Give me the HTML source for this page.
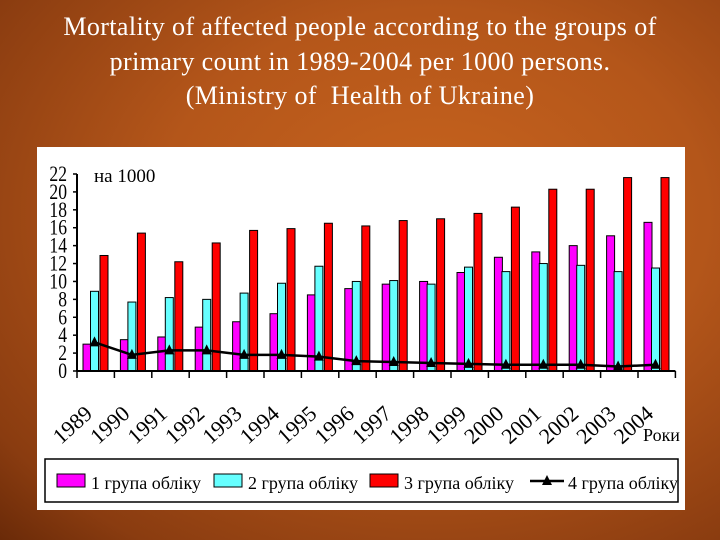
<!DOCTYPE html>
<html><head><meta charset="utf-8"><style>
body{margin:0;width:720px;height:540px;overflow:hidden;background:radial-gradient(ellipse at 60% 40%,#c8641e 0%,#b4561a 45%,#8a3c10 85%,#6a2a08 100%);font-family:"Liberation Serif",serif;}
#title{position:absolute;left:0;top:10px;width:720px;text-align:center;color:#fff;font-size:26px;letter-spacing:0.4px;line-height:34.5px;}
#panel{position:absolute;left:37px;top:147px;width:648px;height:363px;background:#fff;}
</style></head><body>
<div id="title">Mortality of affected people according to the groups of<br>primary count in 1989-2004 per 1000 persons.<br>(Ministry of&nbsp; Health of Ukraine)</div>
<div id="panel"></div>
<svg id="chart" width="720" height="540" style="position:absolute;left:0;top:0"></svg>
<script>
const years=["1989","1990","1991","1992","1993","1994","1995","1996","1997","1998","1999","2000","2001","2002","2003","2004"];
const group1=[3.0,3.5,3.8,4.9,5.5,6.4,8.5,9.2,9.7,10.0,11.0,12.7,13.3,14.0,15.1,16.6];
const group2=[8.9,7.7,8.2,8.0,8.7,9.8,11.7,10.0,10.1,9.7,11.6,11.1,12.0,11.8,11.1,11.5];
const group3=[12.9,15.4,12.2,14.3,15.7,15.9,16.5,16.2,16.8,17.0,17.6,18.3,20.3,20.3,21.6,21.6];
const group4=[3.2,1.8,2.3,2.3,1.8,1.8,1.6,1.1,1.0,0.9,0.8,0.7,0.7,0.7,0.5,0.7];
const yTicks=[0,2,4,6,8,10,12,14,16,18,20,22];
const NS="http://www.w3.org/2000/svg";
const svg=document.getElementById('chart');
const x0=77,gw=37.4,y0=371,ppu=(371-174)/22;
const Y=v=>y0-v*ppu;
const X=i=>x0+i*gw;
function mk(t,a,p){const e=document.createElementNS(NS,t);for(const k in a)e.setAttribute(k,a[k]);(p||svg).appendChild(e);return e;}
const series=[[group1,"#ff00ff",6],[group2,"#66ffff",13.5],[group3,"#ff0000",23]];
series.forEach((s,si)=>{s[0].forEach((v,i)=>{
 const r=mk('rect',{x:X(i)+s[2],y:Y(v),width:8,height:v*ppu,fill:s[1],stroke:"#000","stroke-width":1});
 
 
});});
let d="";group4.forEach((v,i)=>{d+=(i?"L":"M")+(X(i)+17.5)+","+Y(v);});
const ln=mk('path',{d:d,fill:"none",stroke:"#000","stroke-width":2.5});


group4.forEach((v,i)=>{const cx=X(i)+17.5,cy=Y(v);
 const t=mk('polygon',{points:`${cx},${cy-6} ${cx-5},${cy+4} ${cx+5},${cy+4}`,fill:"#000"});
 
 
});
const ax=mk('line',{x1:x0,y1:174,x2:x0,y2:y0,stroke:"#000","stroke-width":2});


const bx=mk('line',{x1:x0,y1:y0,x2:X(16),y2:y0,stroke:"#000","stroke-width":2});


yTicks.forEach(v=>{
 mk('line',{x1:x0-4,y1:Y(v),x2:x0,y2:Y(v),stroke:"#000","stroke-width":1.5});
 const t=mk('text',{x:(x0-10)/0.8,y:Y(v)+7,"text-anchor":"end","font-size":"22","font-family":"Liberation Serif",transform:`scale(0.8,1)`});
 t.textContent=v;
 
 
});
for(let i=0;i<=16;i++)mk('line',{x1:X(i),y1:y0,x2:X(i),y2:y0+7,stroke:"#000","stroke-width":1.5});
years.forEach((yr,i)=>{const cx=X(i)-16,cy=445;
 const t=mk('text',{x:cx,y:cy,"font-size":"22","font-family":"Liberation Serif",transform:`rotate(-42 ${cx} ${cy})`});
 t.textContent=yr;
 
 
});
const u=mk('text',{x:94,y:182,"font-size":"19","font-family":"Liberation Serif"});u.textContent="на 1000";

const rk=mk('text',{x:643,y:441,"font-size":"18","font-family":"Liberation Serif"});rk.textContent="Роки";

const lg=mk('rect',{x:45,y:459,width:633,height:43,fill:"#fff",stroke:"#000","stroke-width":1.5});

const labels=["1 група обліку","2 група обліку","3 група обліку","4 група обліку"];
const lx=[57,214,370,530],cols=["#ff00ff","#66ffff","#ff0000",null];
labels.forEach((l,i)=>{
 if(cols[i]){mk('rect',{x:lx[i],y:474,width:28,height:13,fill:cols[i],stroke:"#000"});}
 else{mk('line',{x1:lx[i],y1:481,x2:lx[i]+34,y2:481,stroke:"#000","stroke-width":2.5});
  const c=lx[i]+17;mk('polygon',{points:`${c},${475} ${c-5},${485} ${c+5},${485}`,fill:"#000"});}
 const t=mk('text',{x:lx[i]+(cols[i]?34:38),y:489,"font-size":"18","font-family":"Liberation Serif"});
 t.textContent=l;
 
 
});
</script>
</body></html>
